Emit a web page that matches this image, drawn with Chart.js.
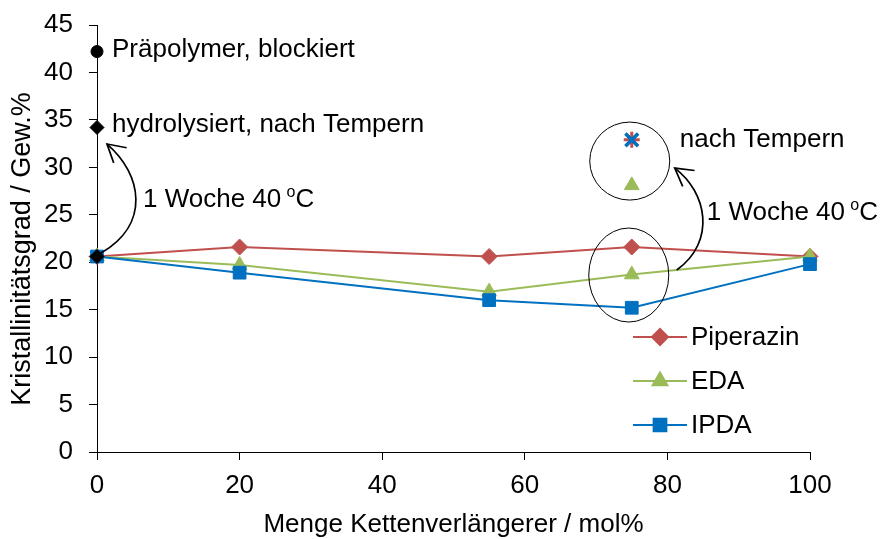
<!DOCTYPE html>
<html>
<head>
<meta charset="utf-8">
<script src="https://cdn.jsdelivr.net/npm/chart.js@4/dist/chart.umd.min.js"></script>
<style>
  body { margin: 0; background: #fff; }
  #wrap { width: 885px; height: 539px; }
</style>
</head>
<body>
<div id="wrap"><canvas id="chart" width="885" height="539"></canvas></div>
<script>
// Data
const xValues = [0, 20, 55, 75, 100];
const piperazin = [20.6, 21.6, 20.6, 21.6, 20.6];
const eda = [20.6, 19.7, 16.9, 18.7, 20.6];
const ipda = [20.6, 18.9, 16.0, 15.2, 19.8];

// single points at x = 0 and after annealing at x = 75
const praepolymerX = [0];
const praepolymerY = [42.2];
const hydrolysiertX = [0, 0];
const hydrolysiertY = [34.2, 20.6];
const getempertX = 75;
const piperazinGetempert = 32.9;
const ipdaGetempert = 32.9;
const edaGetempert = 28.1;

const xTicks = [0, 20, 40, 60, 80, 100];
const yTicks = [0, 5, 10, 15, 20, 25, 30, 35, 40, 45];

const colors = { piperazin: '#C0504D', eda: '#9BBB59', ipda: '#0070C0' };
const FONT = 'Liberation Sans, Arial, sans-serif';

const pts = (xs, ys) => xs.map((x, i) => ({ x: x, y: ys[i] }));

// texts, arrows, ellipses, legend, y title
const annotations = {
  id: 'annotations',
  afterDatasetsDraw(chart) {
    const ctx = chart.ctx;
    const xs = chart.scales.x, ys = chart.scales.y;
    const px = v => xs.getPixelForValue(v);
    const py = v => ys.getPixelForValue(v);

    ctx.save();
    ctx.fillStyle = '#000';
    ctx.strokeStyle = '#000';
    ctx.font = '26px ' + FONT;
    ctx.textBaseline = 'middle';
    ctx.textAlign = 'left';
    ctx.fillText('Präpolymer, blockiert', px(0) + 15, py(praepolymerY[0]) - 2);
    ctx.fillText('hydrolysiert, nach Tempern', px(0) + 15, py(hydrolysiertY[0]) - 3);
    ctx.fillText('nach Tempern', px(getempertX) + 48, py(piperazinGetempert) + 0);

    const woche = (x, y) => {
      ctx.font = '26px ' + FONT;
      ctx.fillText('1 Woche 40 ', x, y);
      let w = ctx.measureText('1 Woche 40 ').width - 2;
      ctx.font = '16px ' + FONT;
      ctx.fillText('o', x + w, y - 7);
      w += ctx.measureText('o').width;
      ctx.font = '26px ' + FONT;
      ctx.fillText('C', x + w, y);
    };
    woche(px(0) + 46, py(26.55));
    woche(px(getempertX) + 75, py(25.2));

    // ellipses
    ctx.lineWidth = 1;
    ctx.beginPath();
    ctx.ellipse(px(getempertX) - 2, py(30.66), 40, 39, 0, 0, Math.PI * 2);
    ctx.stroke();
    ctx.beginPath();
    ctx.ellipse(px(getempertX) - 3, py(18.65), 40, 47, 0, 0, Math.PI * 2);
    ctx.stroke();

    // curved arrows
    const arrow = (ax, ay, p) => {
      ctx.lineWidth = 1.7;
      ctx.beginPath();
      ctx.moveTo(ax + p[0], ay + p[1]);
      ctx.bezierCurveTo(ax + p[2], ay + p[3], ax + p[4], ay + p[5], ax + p[6], ay + p[7]);
      ctx.stroke();
      const x1 = ax + p[6], y1 = ay + p[7];
      const a = Math.atan2(p[7] - p[5], p[6] - p[4]);
      const L = 20;
      ctx.beginPath();
      ctx.moveTo(x1 + L * Math.cos(a + Math.PI - 0.52), y1 + L * Math.sin(a + Math.PI - 0.52));
      ctx.lineTo(x1, y1);
      ctx.lineTo(x1 + L * Math.cos(a + Math.PI + 0.52), y1 + L * Math.sin(a + Math.PI + 0.52));
      ctx.stroke();
    };
    arrow(px(0), py(hydrolysiertY[1]), [4, -3.5, 54, -32.5, 45, -82.5, 10, -112.5]);
    arrow(px(getempertX), py(eda[3]), [45, -4.5, 85, -33.5, 75, -82.5, 43, -106.5]);

    // legend
    const legend = [
      { label: 'Piperazin', color: colors.piperazin, style: 'rectRot', r: 8, y: 337 },
      { label: 'EDA', color: colors.eda, style: 'triangle', r: 8.5, y: 381 },
      { label: 'IPDA', color: colors.ipda, style: 'rect', r: 9, y: 425 }
    ];
    legend.forEach(item => {
      ctx.strokeStyle = item.color;
      ctx.lineWidth = 2;
      ctx.beginPath();
      ctx.moveTo(633, item.y);
      ctx.lineTo(687, item.y);
      ctx.stroke();
      ctx.fillStyle = item.color;
      Chart.helpers.drawPoint(ctx, {
        pointStyle: item.style, radius: item.r, borderWidth: 1, rotation: 0
      }, 660, item.y);
      ctx.fillStyle = '#000';
      ctx.font = '26px ' + FONT;
      ctx.fillText(item.label, 691, item.y + 1);
    });

    // y axis title
    ctx.save();
    ctx.translate(23, 249);
    ctx.rotate(-Math.PI / 2);
    ctx.textAlign = 'center';
    ctx.font = '27px ' + FONT;
    ctx.fillText('Kristallinitätsgrad / Gew.%', 0, 0);
    ctx.restore();

    ctx.restore();
  }
};

const lineSet = (label, ys, color, style, r, order) => ({
  label: label,
  data: pts(xValues, ys),
  borderColor: color,
  backgroundColor: color,
  borderWidth: 2,
  pointStyle: style,
  pointRadius: r,
  pointBorderWidth: 1,
  showLine: true,
  tension: 0,
  clip: false,
  order: order
});

new Chart(document.getElementById('chart'), {
  type: 'scatter',
  data: {
    datasets: [
      lineSet('Piperazin', piperazin, colors.piperazin, 'rectRot', 8, 5),
      lineSet('EDA', eda, colors.eda, 'triangle', 8.5, 4),
      lineSet('IPDA', ipda, colors.ipda, 'rect', 9, 3),
      {
        label: 'Präpolymer', data: pts(praepolymerX, praepolymerY), clip: false, order: 0,
        backgroundColor: '#000', borderColor: '#000', pointStyle: 'circle', pointRadius: 6
      },
      {
        label: 'hydrolysiert', data: pts(hydrolysiertX, hydrolysiertY), clip: false, order: 0,
        backgroundColor: '#000', borderColor: '#000', pointStyle: 'rectRot', pointRadius: 7
      },
      {
        label: 'Piperazin getempert', data: [{ x: getempertX, y: piperazinGetempert }], order: 2,
        borderColor: colors.piperazin, pointStyle: 'star', pointRadius: 8, pointBorderWidth: 3
      },
      {
        label: 'IPDA getempert', data: [{ x: getempertX, y: ipdaGetempert }], order: 1,
        borderColor: colors.ipda, pointStyle: 'crossRot', pointRadius: 9, pointBorderWidth: 3.5
      },
      {
        label: 'EDA getempert', data: [{ x: getempertX, y: edaGetempert }], order: 1,
        backgroundColor: colors.eda, borderColor: colors.eda, pointStyle: 'triangle', pointRadius: 8.5
      }
    ]
  },
  options: {
    responsive: false,
    animation: false,
    layout: { padding: { left: 0, right: 75, top: 25, bottom: 0 } },
    plugins: { legend: { display: false }, tooltip: { enabled: false } },
    scales: {
      x: {
        type: 'linear', min: 0, max: 100,
        afterBuildTicks: s => { s.ticks = xTicks.map(v => ({ value: v })); },
        afterFit: s => { s.height = 87; s.paddingLeft = 0; s.paddingRight = 0; },
        grid: { display: true, drawOnChartArea: false, drawTicks: true, tickLength: 8, color: '#000' },
        border: { color: '#000', width: 1 },
        ticks: { color: '#000', font: { family: FONT, size: 26 }, padding: 10, maxRotation: 0 },
        title: { display: true, text: 'Menge Kettenverlängerer / mol%', color: '#000',
                 font: { family: FONT, size: 26, lineHeight: 1.1 }, padding: 0 }
      },
      y: {
        min: 0, max: 45,
        afterBuildTicks: s => { s.ticks = yTicks.map(v => ({ value: v })); },
        afterFit: s => { s.width = 97; s.paddingTop = 0; s.paddingBottom = 0; },
        grid: { display: true, drawOnChartArea: false, drawTicks: true, tickLength: 8, color: '#000' },
        border: { color: '#000', width: 1 },
        ticks: { color: '#000', font: { family: FONT, size: 26 }, padding: 16 }
      }
    }
  },
  plugins: [annotations]
});
</script>
</body>
</html>
